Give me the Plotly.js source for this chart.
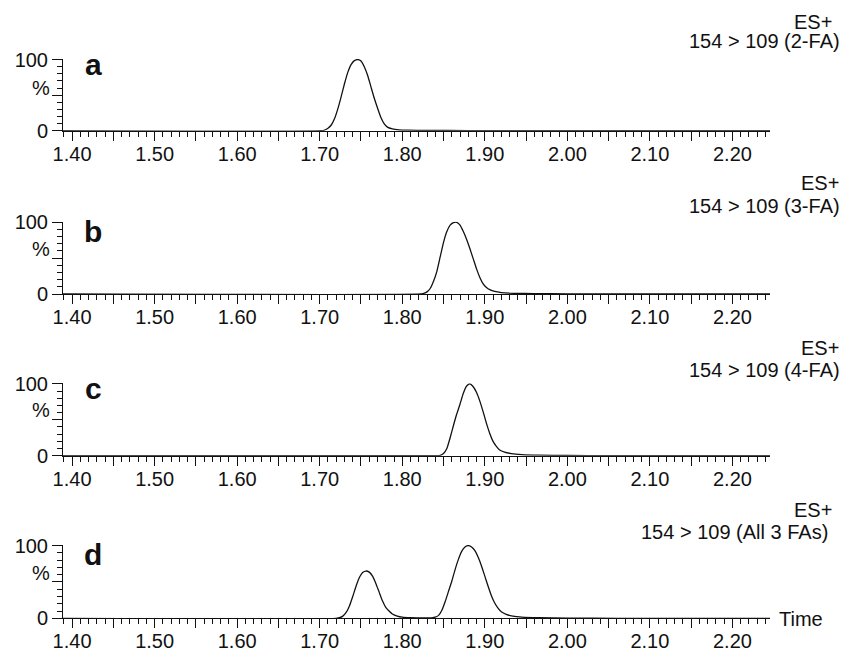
<!DOCTYPE html>
<html>
<head>
<meta charset="utf-8">
<script src="https://cdn.plot.ly/plotly-3.0.1.min.js"></script>
<style>html,body{margin:0;padding:0;background:#fff;}#chart{width:852px;height:651px;}</style>
</head>
<body>
<div id="chart"></div>
<script>
// ---- data (retention time in min, relative intensity %) ----
const timeA = [1.389,1.702,1.706,1.710,1.714,1.718,1.722,1.726,1.730,1.734,1.738,1.742,1.746,1.750,1.754,1.758,1.762,1.766,1.770,1.774,1.778,1.782,1.788,1.796,1.806,1.830,1.880,1.950,2.2455];
const intA  = [0,0,1,3.5,8,17,31,48,66,82,93,98.5,100,98,90,78,62,46,32,19,10,5,2.5,1.3,0.8,0.4,0.2,0,0];

const timeB = [1.389,1.822,1.826,1.830,1.834,1.838,1.842,1.846,1.850,1.854,1.858,1.862,1.866,1.870,1.874,1.878,1.882,1.886,1.890,1.894,1.898,1.902,1.906,1.912,1.920,1.935,1.960,2.000,2.060,2.2455];
const intB  = [0,0,1,3,8,18,32,52,72,87,96,99.5,100,96,87,76,63,49,35,23,14,9,6,3.5,2,1,0.5,0.2,0,0];

const timeC = [1.389,1.842,1.846,1.850,1.854,1.858,1.862,1.866,1.870,1.874,1.878,1.882,1.886,1.890,1.894,1.898,1.902,1.906,1.910,1.914,1.918,1.924,1.932,1.945,1.965,2.000,2.050,2.100,2.2455];
const intC  = [0,0,0.5,3,10,25,42,58,72,87,97,100,96,88,76,61,45,31,20,13,8,5,3,1.5,0.8,0.4,0.1,0,0];

const timeD = [1.389,1.720,1.724,1.728,1.732,1.736,1.740,1.744,1.748,1.752,1.756,1.760,1.764,1.768,1.772,1.776,1.780,1.784,1.788,1.794,1.800,1.810,1.825,1.836,1.840,1.844,1.848,1.852,1.856,1.860,1.864,1.868,1.872,1.876,1.880,1.884,1.888,1.892,1.896,1.900,1.904,1.908,1.912,1.916,1.920,1.926,1.934,1.945,1.965,2.000,2.060,2.2455];
const intD  = [0,0,0.8,3,8,17,30,44,56,63,65,63.5,58,48,36,24,15,10,6,3,1.5,0.8,0.5,0.6,1.5,4,11,23,37,51,67,81,92,98,100,98,93,84,72,58,44,31,21,14,9,5.5,3,1.6,0.8,0.3,0,0];

const panelLetters = ['a','b','c','d'];
const channelLines = ['154 > 109 (2-FA)','154 > 109 (3-FA)','154 > 109 (4-FA)','154 > 109 (All 3 FAs)'];
const xTickVals = [1.40,1.45,1.50,1.55,1.60,1.65,1.70,1.75,1.80,1.85,1.90,1.95,2.00,2.05,2.10,2.15,2.20];
const xTickText = ['1.40','','1.50','','1.60','','1.70','','1.80','','1.90','','2.00','','2.10','','2.20'];
const yTickVals = [0,50,100];
const yTickText = ['0','','100'];

// ---- layout helpers ----
const W = 852, H = 651;
const FONT = 'Liberation Sans, Arial, Helvetica, sans-serif';
const xDom = [63/W, 770/W];
// pixel rows of 0% and 100% for each panel
const zeroPx = [130.7, 294, 455.7, 618.3];
const fullPx = [59, 221.7, 383.3, 545];

const series = [[timeA,intA],[timeB,intB],[timeC,intC],[timeD,intD]];
const data = series.map((s,i)=>({
  x: s[0], y: s[1], type:'scatter', mode:'lines',
  line:{color:'#111', width:1.3, shape:'spline', smoothing:0.5},
  xaxis: i===0?'x':'x'+(i+1), yaxis: i===0?'y':'y'+(i+1),
  hoverinfo:'skip', showlegend:false
}));

const layout = {
  width:W, height:H, margin:{l:0,r:0,t:0,b:0},
  paper_bgcolor:'#fff', plot_bgcolor:'#fff',
  font:{family:FONT, size:20, color:'#111'},
  showlegend:false, annotations:[]
};

for (let i=0;i<4;i++){
  const xs = i===0?'':String(i+1);
  const yDom = [1-zeroPx[i]/H, 1-fullPx[i]/H];
  layout['xaxis'+xs] = {
    domain:xDom, range:[1.389,2.2455], anchor:'y'+xs,
    showline:true, linecolor:'#111', linewidth:1, mirror:false,
    showgrid:false, zeroline:false,
    tickmode:'array', tickvals:xTickVals, ticktext:xTickText,
    ticks:'outside', ticklen:9, tickwidth:1, tickcolor:'#111',
    ticklabelstandoff:-4,
    tickfont:{family:FONT, size:20, color:'#111'},
    minor:{ticks:'outside', ticklen:5, tickwidth:1, tickcolor:'#111', dtick:0.01, tick0:1.40, showgrid:false},
    fixedrange:true
  };
  layout['yaxis'+xs] = {
    domain:yDom, range:[0,100.8], anchor:'x'+xs,
    showline:true, linecolor:'#111', linewidth:1,
    showgrid:false, zeroline:false,
    tickmode:'array', tickvals:yTickVals, ticktext:yTickText,
    ticks:'outside', ticklen:10, tickwidth:1, tickcolor:'#111',
    tickfont:{family:FONT, size:20, color:'#111'},
    minor:{ticks:'outside', ticklen:5, tickwidth:1, tickcolor:'#111', dtick:10, tick0:0, showgrid:false},
    fixedrange:true
  };
}

// annotation positions in pixels
const letterY = [64.6, 231.3, 388, 554.6];
const esY = [22, 182.5, 348, 510];
const esR = [833, 840, 840, 833];
const chY = [41, 206.5, 370, 532];
const chR = [841, 841, 841, 829];
const pctY = [88.3, 249.3, 410, 573.3];

for (let i=0;i<4;i++){
  layout.annotations.push({xref:'paper', yref:'paper', x:93/W, y:1-letterY[i]/H, xanchor:'center', yanchor:'middle',
    text:'<b>'+panelLetters[i]+'</b>', showarrow:false, font:{family:FONT, size:30, color:'#111'}});
  layout.annotations.push({xref:'paper', yref:'paper', x:41/W, y:1-pctY[i]/H, xanchor:'center', yanchor:'middle',
    text:'%', showarrow:false, font:{family:FONT, size:20, color:'#111'}});
  layout.annotations.push({xref:'paper', yref:'paper', x:esR[i]/W, y:1-esY[i]/H, xanchor:'right', yanchor:'middle',
    text:'ES+', showarrow:false, borderpad:0, font:{family:FONT, size:20, color:'#111'}});
  layout.annotations.push({xref:'paper', yref:'paper', x:chR[i]/W, y:1-chY[i]/H, xanchor:'right', yanchor:'middle',
    text:channelLines[i], showarrow:false, borderpad:0, font:{family:FONT, size:20, color:'#111'}});
}
layout.annotations.push({xref:'paper', yref:'paper', x:777/W, y:1-619/H, xanchor:'left', yanchor:'middle',
  text:'Time', showarrow:false, font:{family:FONT, size:20, color:'#111'}});

Plotly.newPlot('chart', data, layout, {staticPlot:true, displayModeBar:false});
</script>
</body>
</html>
